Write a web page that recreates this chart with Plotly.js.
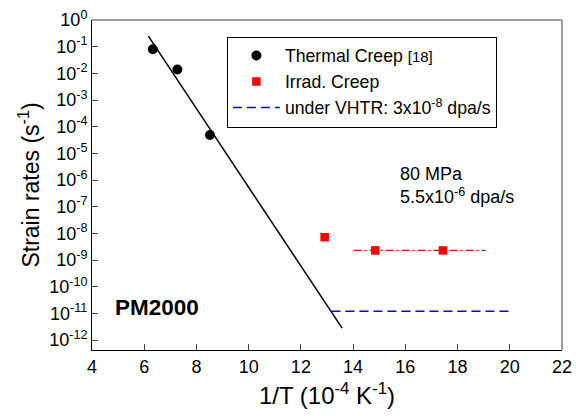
<!DOCTYPE html>
<html><head><meta charset="utf-8">
<script src="https://cdn.plot.ly/plotly-3.0.1.min.js"></script>
<style>body{margin:0;background:#fff}#c{width:576px;height:416px}</style>
</head><body><div id="c"></div>
<script>
// Thermal creep data
var thermalX = [6.33, 7.27, 8.52];
var thermalY = [0.08, 0.014, 4.9e-5];
// Arrhenius fit line endpoints
var fitX = [6.16, 13.58];
var fitY = [0.25, 2.8e-12];
// Irradiation creep
var irradX = [12.91, 14.85, 17.44];
var irradY = [7.2e-9, 2.3e-9, 2.3e-9];
var irradLineX = [14.02, 19.07];
var irradLineY = [2.3e-9, 2.3e-9];
// VHTR line
var vhtrX = [13.17, 20.02];
var vhtrY = [1.2e-11, 1.2e-11];
// y tick labels
var yTickVals = [1e0,1e-1,1e-2,1e-3,1e-4,1e-5,1e-6,1e-7,1e-8,1e-9,1e-10,1e-11,1e-12];
var yTickText = ['10<sup>0</sup>','10<sup>-1</sup>','10<sup>-2</sup>','10<sup>-3</sup>','10<sup>-4</sup>','10<sup>-5</sup>','10<sup>-6</sup>','10<sup>-7</sup>','10<sup>-8</sup>','10<sup>-9</sup>','10<sup>-10</sup>','10<sup>-11</sup>','10<sup>-12</sup>'];

var F = 'Liberation Sans, Arial, sans-serif';
var traces = [
  {x: fitX, y: fitY, mode: 'lines', line: {color: 'black', width: 1.5}, showlegend: false, hoverinfo: 'skip'},
  {x: irradLineX, y: irradLineY, mode: 'lines', line: {color: 'red', width: 1.2, dash: '8px,3px,2px,3px'}, showlegend: false},
  {x: thermalX, y: thermalY, mode: 'markers', name: 'Thermal Creep <span style="font-size:15px">[18]</span>',
   marker: {color: 'black', size: 10, symbol: 'circle'}},
  {x: irradX, y: irradY, mode: 'markers', name: 'Irrad. Creep',
   marker: {color: 'red', size: 8.5, symbol: 'square'}},
  {x: vhtrX, y: vhtrY, mode: 'lines', name: 'under VHTR: 3x10<sup>-8</sup> dpa/s',
   line: {color: 'blue', width: 1.5, dash: '9px,5px'}}
];
var layout = {
  width: 576, height: 416,
  margin: {l: 92, r: 14, t: 20, b: 66},
  paper_bgcolor: 'white', plot_bgcolor: 'white',
  font: {family: F, color: 'black', size: 16},
  showlegend: true,
  legend: {x: 0.287, y: 0.95, xanchor: 'left', yanchor: 'top', bordercolor: 'black', borderwidth: 1,
           bgcolor: 'white', font: {size: 17.7, family: F}, tracegroupgap: 0, itemwidth: 47},
  xaxis: {range: [4, 22], tickvals: [4,6,8,10,12,14,16,18,20,22], ticks: 'inside', ticklen: 6,
          showgrid: false, zeroline: false, showline: true, linecolor: 'black', linewidth: 1,
          tickfont: {size: 18}, title: {text: '1/T (10<sup>-4</sup> K<sup>-1</sup>)', font: {size: 24}, standoff: 11}},
  yaxis: {type: 'log', range: [-12.37, 0], tickvals: yTickVals, ticktext: yTickText, ticks: 'inside', ticklen: 6,
          showgrid: false, zeroline: false, showline: true, linecolor: 'black', linewidth: 1,
          tickfont: {size: 18}, title: {text: 'Strain rates (s<sup>-1</sup>)', font: {size: 23}, standoff: 3}},
  shapes: [
    {type: 'line', xref: 'paper', yref: 'paper', x0: 0, x1: 1, y0: 1, y1: 1, line: {color: '#808080', width: 1.5}},
    {type: 'line', xref: 'paper', yref: 'paper', x0: 1, x1: 1, y0: 0, y1: 1, line: {color: '#808080', width: 1.5}}
  ],
  annotations: [
    {xref: 'paper', yref: 'paper', x: 0.65, y: 0.5, xanchor: 'left', yanchor: 'middle', showarrow: false, align: 'left',
     text: '80 MPa<br>5.5x10<sup>-6</sup> dpa/s', font: {size: 18}},
    {xref: 'paper', yref: 'paper', x: 0.045, y: 0.13, xanchor: 'left', yanchor: 'middle', showarrow: false,
     text: '<b>PM2000</b>', font: {size: 22.5}}
  ]
};
Plotly.newPlot('c', traces, layout, {displayModeBar: false, staticPlot: true});
</script></body></html>
